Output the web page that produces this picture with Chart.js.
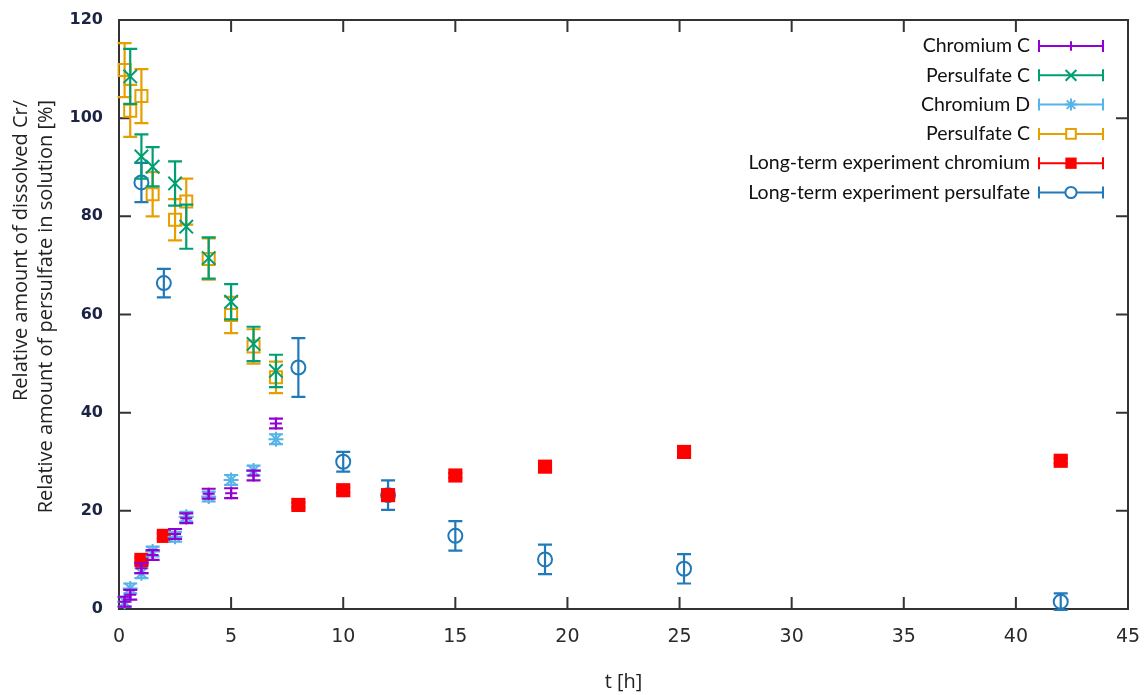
<!DOCTYPE html>
<html>
<head>
<meta charset="utf-8">
<script src="https://cdn.jsdelivr.net/npm/chart.js"></script>
<style>
  html, body { margin: 0; padding: 0; background: #fff; }
</style>
</head>
<body>
<canvas id="myChart" width="1145" height="695"></canvas>
<script>
// sampling times of the short runs C and D [h]
const shortT = [0.25, 0.5, 1, 1.5, 2.5, 3, 4, 5, 6, 7];

// Chromium C
const chromC    = [1.5, 2.9, 8.3, 11.0, 15.3, 18.5, 23.5, 23.6, 27.2, 37.8];
const chromCErr = [1, 1, 1, 1, 1, 1, 1, 1, 1, 1];

// Persulfate C (run 1)
const persC1T   = [0.5, 1, 1.5, 2.5, 3, 4, 5, 6, 7];
const persC1    = [108.5, 92.2, 90.1, 86.7, 77.9, 71.5, 62.6, 54.0, 48.5];
const persC1Err = [5.6, 4.5, 4.0, 4.5, 4.5, 4.2, 3.6, 3.5, 3.3];

// Chromium D
const chromD    = [1.5, 4.2, 7.3, 11.7, 14.7, 18.8, 22.9, 26.3, 28.2, 34.6];
const chromDErr = [1, 1, 1, 1, 1, 1, 1, 1, 1, 1];

// Persulfate C (run 2)
const persC2    = [109.8, 101.5, 104.5, 84.5, 79.3, 83.0, 71.3, 59.9, 53.5, 47.2];
const persC2Err = [5.5, 5.3, 5.5, 4.5, 4.2, 4.7, 4.2, 3.7, 3.5, 3.2];

// long-term experiment
const longT      = [1, 2, 8, 10, 12, 15, 19, 25.2, 42];
const longCr     = [10.0, 14.9, 21.2, 24.2, 23.2, 27.2, 29.0, 32.0, 30.2];
const longCrErr  = [0.5, 0.5, 0.5, 0.5, 0.5, 0.5, 0.5, 0.5, 0.5];
const longPs     = [86.9, 66.4, 49.2, 30.0, 23.2, 14.9, 10.1, 8.2, 1.5];
const longPsErr  = [4.0, 2.9, 6.0, 2.0, 3.0, 3.0, 3.0, 3.0, 1.7];

// axis ticks
const xTicks = [0, 5, 10, 15, 20, 25, 30, 35, 40, 45];
const yTicks = [0, 20, 40, 60, 80, 100, 120];

const CAP = 7;

function pts(t, v, e) {
  return t.map((x, i) => ({ x: x, y: v[i], e: e[i] }));
}

function series(label, t, v, e, color, style, radius, filled) {
  return {
    label: label,
    data: pts(t, v, e),
    borderColor: color,
    backgroundColor: filled ? color : 'rgba(0,0,0,0)',
    pointStyle: style,
    pointRadius: radius,
    pointHoverRadius: radius,
    pointBorderWidth: filled ? 0 : 2,
    showLine: false,
    clip: false
  };
}

const datasets = [
  series('Chromium C', shortT, chromC, chromCErr, '#9400d3', 'cross', 6, false),
  series('Persulfate C', persC1T, persC1, persC1Err, '#009e73', 'crossRot', 9.5, false),
  series('Chromium D', shortT, chromD, chromDErr, '#56b4e9', 'star', 7.5, false),
  series('Persulfate C', shortT, persC2, persC2Err, '#e69f00', 'rect', 8.5, false),
  series('Long-term experiment chromium', longT, longCr, longCrErr, '#ff0000', 'rect', 10, true),
  series('Long-term experiment persulfate', longT, longPs, longPsErr, '#2079b9', 'circle', 7, false)
];

// vertical error bars with caps, drawn under each dataset's markers
const errorBars = {
  id: 'errorBars',
  beforeDatasetDraw(chart, args) {
    const ds = chart.data.datasets[args.index];
    const ctx = chart.ctx, x = chart.scales.x, y = chart.scales.y;
    ctx.save();
    ctx.strokeStyle = ds.borderColor;
    ctx.lineWidth = 2.2;
    ctx.beginPath();
    ds.data.forEach(p => {
      const px = x.getPixelForValue(p.x);
      const top = y.getPixelForValue(p.y + p.e);
      const bot = y.getPixelForValue(p.y - p.e);
      ctx.moveTo(px, top); ctx.lineTo(px, bot);
      ctx.moveTo(px - CAP, top); ctx.lineTo(px + CAP, top);
      ctx.moveTo(px - CAP, bot); ctx.lineTo(px + CAP, bot);
    });
    ctx.stroke();
    ctx.restore();
  }
};

// closed border with inward ticks on all four sides
const frame = {
  id: 'frame',
  beforeDatasetsDraw(chart) {
    const ctx = chart.ctx, a = chart.chartArea;
    const x = chart.scales.x, y = chart.scales.y;
    const len = 12;
    ctx.save();
    ctx.strokeStyle = '#333';
    ctx.lineWidth = 2;
    ctx.strokeRect(a.left, a.top, a.right - a.left, a.bottom - a.top);
    ctx.beginPath();
    x.ticks.forEach(t => {
      const px = x.getPixelForValue(t.value);
      if (px <= a.left + 1 || px >= a.right - 1) return;
      ctx.moveTo(px, a.bottom); ctx.lineTo(px, a.bottom - len);
      ctx.moveTo(px, a.top); ctx.lineTo(px, a.top + len);
    });
    y.ticks.forEach(t => {
      const py = y.getPixelForValue(t.value);
      if (py <= a.top + 1 || py >= a.bottom - 1) return;
      ctx.moveTo(a.left, py); ctx.lineTo(a.left + len, py);
      ctx.moveTo(a.right, py); ctx.lineTo(a.right - len, py);
    });
    ctx.stroke();
    ctx.restore();
  }
};

// axis titles
const titles = {
  id: 'titles',
  afterDraw(chart) {
    const ctx = chart.ctx, a = chart.chartArea;
    ctx.save();
    ctx.fillStyle = '#222';
    ctx.font = '20px "Open Sans"';
    ctx.textAlign = 'center';
    ctx.textBaseline = 'middle';
    ctx.fillText('t [h]', (a.left + a.right) / 2, 682);
    ctx.translate(0, 100);
    ctx.rotate(-Math.PI / 2);
    ctx.textAlign = 'right';
    ctx.fillText('Relative amount of dissolved Cr/', 0, 21);
    ctx.fillText('Relative amount of persulfate in solution [%]', 0, 46);
    ctx.restore();
  }
};

// key in the upper right corner: label, then a sample bar with caps and marker
const key = {
  id: 'key',
  afterDraw(chart) {
    const ctx = chart.ctx;
    const textRight = 1030, x0 = 1039, x1 = 1103, xm = 1071;
    ctx.save();
    ctx.font = '19.5px Lato';
    ctx.textAlign = 'right';
    ctx.textBaseline = 'middle';
    chart.data.datasets.forEach((ds, i) => {
      const yy = 46 + i * 29.3;
      ctx.fillStyle = '#111';
      ctx.fillText(ds.label, textRight, yy);
      ctx.strokeStyle = ds.borderColor;
      ctx.lineWidth = 2;
      ctx.beginPath();
      ctx.moveTo(x0, yy); ctx.lineTo(x1, yy);
      ctx.moveTo(x0, yy - 6); ctx.lineTo(x0, yy + 6);
      ctx.moveTo(x1, yy - 6); ctx.lineTo(x1, yy + 6);
      ctx.stroke();
      ctx.fillStyle = ds.backgroundColor === 'rgba(0,0,0,0)' ? '#fff' : ds.backgroundColor;
      Chart.helpers.drawPoint(ctx, {
        pointStyle: ds.pointStyle,
        radius: ds.pointRadius * 0.8,
        rotation: 0,
        borderWidth: ds.pointBorderWidth
      }, xm, yy);
    });
    ctx.restore();
  }
};

const config = {
  type: 'scatter',
  data: { datasets: datasets },
  options: {
    responsive: false,
    animation: false,
    events: [],
    layout: { padding: { left: 0, right: 17, top: 20, bottom: 0 } },
    plugins: { legend: { display: false }, tooltip: { enabled: false } },
    scales: {
      x: {
        type: 'linear',
        min: 0, max: 45,
        afterFit(scale) {
          scale.height = 86;
          scale.paddingLeft = 0;
          scale.paddingRight = 0;
        },
        afterBuildTicks(scale) { scale.ticks = xTicks.map(v => ({ value: v })); },
        grid: { display: false, drawTicks: false },
        border: { display: false },
        ticks: {
          padding: 17,
          color: '#2a2a2a',
          font: { family: 'DejaVu Sans', size: 19 },
          maxRotation: 0
        }
      },
      y: {
        type: 'linear',
        min: 0, max: 120,
        afterFit(scale) {
          scale.width = 119;
          scale.paddingTop = 0;
          scale.paddingBottom = 0;
        },
        afterBuildTicks(scale) { scale.ticks = yTicks.map(v => ({ value: v })); },
        grid: { display: false, drawTicks: false },
        border: { display: false },
        ticks: {
          padding: 16,
          color: '#1c2446',
          font: { family: 'DejaVu Sans', size: 16, weight: 'bold' }
        }
      }
    }
  },
  plugins: [frame, errorBars, titles, key]
};

const myChart = new Chart(document.getElementById('myChart'), config);
</script>
</body>
</html>
